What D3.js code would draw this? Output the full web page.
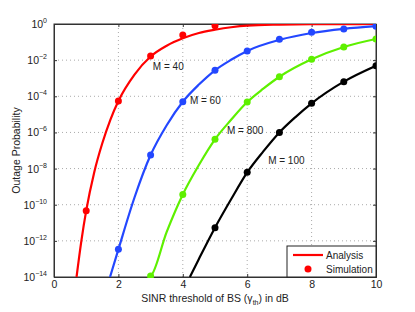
<!DOCTYPE html>
<html>
<head>
<meta charset="utf-8">
<script src="https://cdn.jsdelivr.net/npm/d3@7"></script>
<style>
  body { margin: 0; background: #fff; }
  text { font-family: "Liberation Sans", Arial, sans-serif; fill: #222; }
</style>
</head>
<body>
<div id="chart"></div>
<script>
// x ticks (dB) and y ticks (exponents of 10)
const xTicks = [0, 2, 4, 6, 8, 10]
const yTickExps = [0, -2, -4, -6, -8, -10, -12, -14]

// simulation points: x in dB, y as exponent of 10
const simX = [1, 2, 3, 4, 5, 6, 7, 8, 9, 10]
const simM40 = [-10.33, -4.26, -1.77, -0.61, -0.09]
const simM60 = [null, -12.47, -7.25, -4.30, -2.56, -1.49, -0.85, -0.46, -0.28, -0.13]
const simM800 = [null, null, -13.95, -9.43, -6.38, -4.32, -2.92, -1.95, -1.27, -0.83]
const simM100 = [null, null, null, null, -11.27, -8.21, -6.00, -4.39, -3.19, -2.31]

// analysis curves
const anaX40 = [0.70, 0.85, 1.0, 1.25, 1.5, 1.75, 2.0, 2.5, 3.0, 3.5, 4.0, 4.5, 5.0, 5.5, 6.0, 7.0, 8.0, 9.0, 10.0]
const anaM40 = [-14, -12.0, -10.33, -8.2, -6.6, -5.3, -4.26, -2.8, -1.80, -1.2, -0.79, -0.5, -0.32, -0.18, -0.09, -0.035, -0.012, -0.004, 0]
const anaX60 = [1.74, 2.0, 2.5, 3.0, 3.5, 4.0, 4.5, 5.0, 5.5, 6.0, 7.0, 8.0, 9.0, 10.0]
const anaM60 = [-14, -12.47, -9.6, -7.25, -5.6, -4.30, -3.35, -2.56, -1.98, -1.49, -0.88, -0.50, -0.27, -0.12]
const anaX800 = [2.93, 3.0, 3.5, 4.0, 4.5, 5.0, 5.5, 6.0, 6.5, 7.0, 8.0, 9.0, 10.0]
const anaM800 = [-14, -13.95, -11.5, -9.43, -7.8, -6.38, -5.3, -4.32, -3.58, -2.92, -1.95, -1.27, -0.83]
const anaX100 = [4.22, 4.5, 5.0, 5.5, 6.0, 6.5, 7.0, 7.5, 8.0, 9.0, 10.0]
const anaM100 = [-14, -13.0, -11.27, -9.7, -8.21, -7.05, -6.0, -5.15, -4.39, -3.19, -2.31]

const series = [
  { name: 'M = 40', color: '#ff0000', ax: anaX40, ay: anaM40, sim: simM40, label: [3.07, -2.55] },
  { name: 'M = 60', color: '#2347ff', ax: anaX60, ay: anaM60, sim: simM60, label: [4.22, -4.43] },
  { name: 'M = 800', color: '#5ef000', ax: anaX800, ay: anaM800, sim: simM800, label: [5.37, -6.09] },
  { name: 'M = 100', color: '#000000', ax: anaX100, ay: anaM100, sim: simM100, label: [6.65, -7.75] }
]

const W = 415, H = 312
const margin = { top: 24, right: 39, bottom: 35, left: 54 }
const width = W - margin.left - margin.right
const height = H - margin.top - margin.bottom

const svg = d3.select('#chart').append('svg')
  .attr('width', W).attr('height', H)

const g = svg.append('g')
  .attr('transform', 'translate(' + margin.left + ',' + margin.top + ')')

const x = d3.scaleLinear().domain([0, 10]).range([0, width])
const y = d3.scaleLog().domain([1e-14, 1]).range([height, 0])

svg.append('defs').append('clipPath').attr('id', 'clip')
  .append('rect').attr('width', width).attr('height', height + 1)

// grid
g.append('g').selectAll('line.gx')
  .data(xTicks.slice(1, -1)).enter().append('line')
  .attr('x1', d => x(d)).attr('x2', d => x(d))
  .attr('y1', 0).attr('y2', height)
  .attr('stroke', '#aaa').attr('stroke-dasharray', '1,3')
g.append('g').selectAll('line.gy')
  .data(yTickExps.slice(1, -1)).enter().append('line')
  .attr('x1', 0).attr('x2', width)
  .attr('y1', d => y(Math.pow(10, d))).attr('y2', d => y(Math.pow(10, d)))
  .attr('stroke', '#aaa').attr('stroke-dasharray', '1,3')

// axes (ticks inside, like matlab)
const xAxis = g.append('g').attr('transform', 'translate(0,' + height + ')')
  .call(d3.axisBottom(x).tickValues(xTicks).tickSize(-3).tickPadding(4))
xAxis.selectAll('text').attr('font-size', 10.5)
g.append('g').call(d3.axisTop(x).tickValues(xTicks).tickSize(-3).tickFormat(''))

g.append('g')
  .call(d3.axisLeft(y).tickValues(yTickExps.map(e => Math.pow(10, e))).tickSize(-3).tickFormat(''))
g.append('g').attr('transform', 'translate(' + width + ',0)')
  .call(d3.axisRight(y).tickValues(yTickExps.map(e => Math.pow(10, e))).tickSize(-3).tickFormat(''))
g.selectAll('.domain').attr('stroke', '#333')
g.selectAll('.tick line').attr('stroke', '#333')

// y tick labels as 10^n
const yl = g.append('g').selectAll('text.yl')
  .data(yTickExps).enter().append('text')
  .attr('x', -7).attr('y', d => y(Math.pow(10, d)) + 4)
  .attr('text-anchor', 'end').attr('font-size', 10.5)
yl.append('tspan').text('10')
yl.append('tspan').attr('dy', -5).attr('font-size', 7)
  .text(d => d === 0 ? '0' : '\u2212' + (-d))

// box
g.append('rect').attr('width', width).attr('height', height)
  .attr('fill', 'none').attr('stroke', '#333').attr('stroke-width', 1)

const plot = g.append('g').attr('clip-path', 'url(#clip)')
const line = d3.line()
  .x(d => x(d[0]))
  .y(d => y(Math.pow(10, d[1])))
  .curve(d3.curveMonotoneX)

series.forEach(s => {
  plot.append('path')
    .datum(s.ax.map((v, i) => [v, s.ay[i]]))
    .attr('fill', 'none').attr('stroke', s.color)
    .attr('stroke-width', 2.2).attr('stroke-linejoin', 'round')
    .attr('d', line)
  plot.selectAll(null)
    .data(s.sim.map((v, i) => [simX[i], v]).filter(d => d[1] !== null))
    .enter().append('circle')
    .attr('cx', d => x(d[0])).attr('cy', d => y(Math.pow(10, d[1])))
    .attr('r', 3.5).attr('fill', s.color)
  g.append('text')
    .attr('x', x(s.label[0])).attr('y', y(Math.pow(10, s.label[1])))
    .attr('font-size', 10).text(s.name)
})

// legend
const lg = g.append('g').attr('transform', 'translate(' + (width - 89) + ',' + (height - 31) + ')')
lg.append('rect').attr('width', 89).attr('height', 31)
  .attr('fill', '#fff').attr('stroke', '#222')
lg.append('line').attr('x1', 6).attr('x2', 36).attr('y1', 9).attr('y2', 9)
  .attr('stroke', '#ff0000').attr('stroke-width', 2.2)
lg.append('text').attr('x', 39).attr('y', 12.5).attr('font-size', 10).text('Analysis')
lg.append('circle').attr('cx', 21).attr('cy', 23).attr('r', 3.5).attr('fill', '#ff0000')
lg.append('text').attr('x', 39).attr('y', 26.5).attr('font-size', 10).text('Simulation')

// axis titles
const xt = svg.append('text')
  .attr('x', margin.left + width / 2).attr('y', 302)
  .attr('text-anchor', 'middle').attr('font-size', 10.5)
xt.append('tspan').text('SINR threshold of BS (\u03B3')
xt.append('tspan').attr('dy', 3).attr('font-size', 7).text('th')
xt.append('tspan').attr('dy', -3).text(') in dB')

svg.append('text')
  .attr('transform', 'translate(20,' + (margin.top + height / 2) + ') rotate(-90)')
  .attr('text-anchor', 'middle').attr('font-size', 10.5)
  .text('Outage Probability')
</script>
</body>
</html>
